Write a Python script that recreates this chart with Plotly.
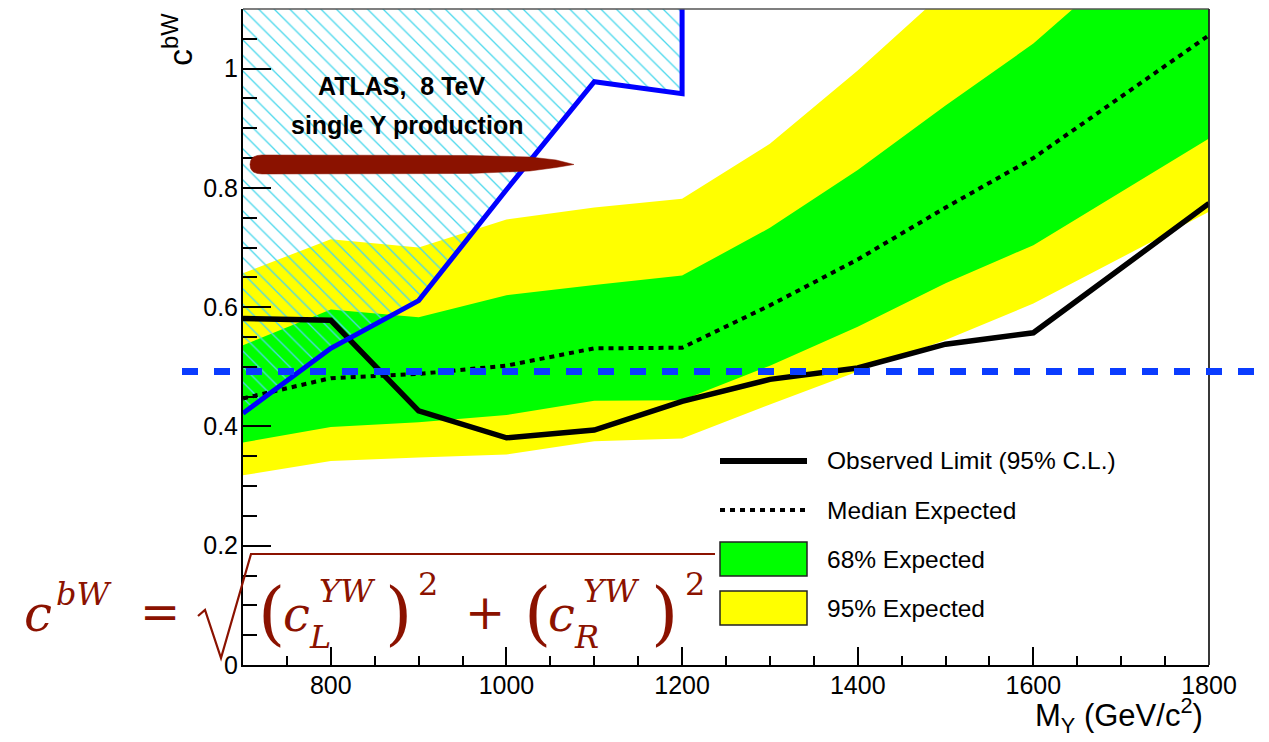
import plotly.graph_objects as go

# ---------------- data ----------------
mass = [700, 800, 900, 1000, 1100, 1200, 1300, 1400, 1500, 1600, 1800]
observed = [0.581, 0.578, 0.426, 0.381, 0.394, 0.442, 0.479, 0.498, 0.538, 0.557, 0.774]
expected = [0.447, 0.481, 0.488, 0.502, 0.531, 0.532, 0.603, 0.680, 0.767, 0.850, 1.056]
band68_lo = [0.373, 0.399, 0.407, 0.419, 0.443, 0.444, 0.502, 0.567, 0.640, 0.704, 0.883]
band68_hi = [0.536, 0.596, 0.583, 0.620, 0.637, 0.653, 0.733, 0.830, 0.938, 1.042, 1.300]
band95_lo = [0.318, 0.342, 0.348, 0.353, 0.375, 0.380, 0.437, 0.492, 0.545, 0.606, 0.760]
band95_hi = [0.657, 0.714, 0.700, 0.747, 0.767, 0.782, 0.874, 0.997, 1.130, 1.260, 1.550]

atlas_mass = [700, 800, 900, 1000, 1100, 1200, 1200]
atlas_limit = [0.422, 0.531, 0.611, 0.797, 0.978, 0.958, 1.15]

reference_coupling = 0.492

x_ticks = [800, 1000, 1200, 1400, 1600, 1800]
y_ticks = [0, 0.2, 0.4, 0.6, 0.8, 1.0]
y_tick_text = ["0", "0.2", "0.4", "0.6", "0.8", "1"]

legend_labels = ["Observed Limit (95% C.L.)", "Median Expected", "68% Expected", "95% Expected"]

X_RANGE = [700, 1800]
Y_RANGE = [0, 1.1]

# ---------------- geometry helpers ----------------
# the page body has an 8 px margin, so the plot frame (on screen 243..1209 x 9..665)
W, H = 1269, 742
OFF = 8
L, R, T, B = 243 - OFF, W - (1209 - OFF), 9 - OFF, H - (665 - OFF)
PW, PH = W - L - R, H - T - B


def px(x):  # screen pixel -> paper
    return (x - 243) / PW


def py(y):
    return (665 - y) / PH


DARKRED = "#8b1200"
SANS = "Liberation Sans"
SERIF = "DejaVu Serif"

fig = go.Figure()

# 95% band
fig.add_trace(go.Scatter(x=mass, y=band95_lo, mode="lines", line=dict(width=0, color="#ffff00"),
                         showlegend=False, hoverinfo="skip"))
fig.add_trace(go.Scatter(x=mass, y=band95_hi, mode="lines", line=dict(width=0, color="#ffff00"),
                         fill="tonexty", fillcolor="#ffff00", showlegend=False, hoverinfo="skip"))
# 68% band
fig.add_trace(go.Scatter(x=mass, y=band68_lo, mode="lines", line=dict(width=0, color="#00ff00"),
                         showlegend=False, hoverinfo="skip"))
fig.add_trace(go.Scatter(x=mass, y=band68_hi, mode="lines", line=dict(width=0, color="#00ff00"),
                         fill="tonexty", fillcolor="#00ff00", showlegend=False, hoverinfo="skip"))

# hatched excluded region (ATLAS)
fig.add_trace(go.Scatter(
    x=atlas_mass + [atlas_mass[0]], y=atlas_limit + [atlas_limit[-1]],
    mode="lines", line=dict(width=0, color="rgba(0,0,0,0)"),
    fill="toself", fillcolor="rgba(0,0,0,0)",
    fillpattern=dict(shape="\\", fgcolor="#4ad8ec", bgcolor="rgba(0,0,0,0)",
                     size=11, solidity=0.12, fillmode="replace"),
    showlegend=False, hoverinfo="skip"))

# median expected
fig.add_trace(go.Scatter(x=mass, y=expected, mode="lines",
                         line=dict(color="black", width=4, dash="5px,5px"),
                         showlegend=False))
# observed
fig.add_trace(go.Scatter(x=mass, y=observed, mode="lines",
                         line=dict(color="black", width=5.5),
                         showlegend=False))
# ATLAS limit line
fig.add_trace(go.Scatter(x=atlas_mass, y=atlas_limit, mode="lines",
                         line=dict(color="#0000ff", width=5),
                         showlegend=False))

shapes = []
annotations = []

# frame top & right
shapes.append(dict(type="line", xref="paper", yref="paper", x0=0, y0=1, x1=1, y1=1,
                   line=dict(color="#555555", width=1.5)))
shapes.append(dict(type="line", xref="paper", yref="paper", x0=1, y0=0, x1=1, y1=1,
                   line=dict(color="#222222", width=1.8)))

# blue dashed reference line (extends beyond the frame)
yref_p = (reference_coupling - Y_RANGE[0]) / (Y_RANGE[1] - Y_RANGE[0])
shapes.append(dict(type="line", xref="paper", yref="paper", x0=px(182), x1=px(1256),
                   y0=yref_p, y1=yref_p, line=dict(color="#0a3cff", width=7, dash="16px,16px")))

# red brush stroke
pts = [("M", 262, 155), ("L", 470, 155.5), ("L", 530, 157), ("L", 556, 160), ("L", 574, 164.5),
       ("L", 556, 167.5), ("L", 530, 171), ("L", 470, 173.5), ("L", 262, 174)]
path = " ".join(f"{c} {px(a):.5f},{py(b):.5f}" for c, a, b in pts)
path += f" Q {px(250):.5f},{py(174):.5f} {px(250):.5f},{py(164.5):.5f}"
path += f" Q {px(250):.5f},{py(155):.5f} {px(262):.5f},{py(155):.5f} Z"
shapes.append(dict(type="path", xref="paper", yref="paper", path=path,
                   fillcolor=DARKRED, line=dict(color=DARKRED, width=0.5)))

# radical sign of the formula
rad = [(198, 616), (205, 610), (221, 658), (251, 554), (715, 554)]
rpath = "M " + " L ".join(f"{px(a):.5f},{py(b):.5f}" for a, b in rad)
shapes.append(dict(type="path", xref="paper", yref="paper", path=rpath,
                   line=dict(color=DARKRED, width=2.2)))


def ann(text, x, y, size, family=SANS, color="black", xanchor="center", angle=0):
    annotations.append(dict(text=text, x=px(x), y=py(y), xref="paper", yref="paper",
                            xanchor=xanchor, yanchor="middle", showarrow=False,
                            textangle=angle, font=dict(size=size, family=family, color=color)))


def math(text, cx, base, size, italic=True):
    mid = base - 0.346 * size
    t = f"<i>{text}</i>" if italic else text
    ann(t, cx, mid, size, family=SERIF, color=DARKRED)


# formula  c^{bW} = sqrt((c_L^{YW})^2 + (c_R^{YW})^2)
math("c", 38, 631, 50)
math("bW", 84, 605, 32)
math("=", 160, 629, 48, italic=False)
math("(", 271, 637, 70, italic=False)
math("c", 296, 631, 48)
math("YW", 347, 602, 32)
math("L", 320, 648, 32)
math(")", 398, 637, 70, italic=False)
math("2", 428, 595, 32, italic=False)
math("+", 485, 629, 48, italic=False)
math("(", 537, 637, 70, italic=False)
math("c", 561, 631, 48)
math("YW", 611, 602, 32)
math("R", 586, 648, 32)
math(")", 664, 637, 70, italic=False)
math("2", 695, 595, 32, italic=False)

# ATLAS label
ann("<b>ATLAS,\u00a0 8 TeV</b>", 401, 86, 25)
ann("<b>single Y production</b>", 407, 125, 25)

# axis titles
ann("c<sup>bW</sup>", 178, 40, 34, angle=-90)
ann("M<sub>Y</sub> (GeV/c<sup>2</sup>)", 1205, 716, 31, xanchor="right")

# legend (drawn by hand, ROOT style)
rows = [461, 510, 559, 608]
shapes.append(dict(type="line", xref="paper", yref="paper", x0=px(720), x1=px(807),
                   y0=py(rows[0]), y1=py(rows[0]), line=dict(color="black", width=6)))
shapes.append(dict(type="line", xref="paper", yref="paper", x0=px(720), x1=px(807),
                   y0=py(rows[1]), y1=py(rows[1]), line=dict(color="black", width=4, dash="5px,5px")))
for r, col in ((rows[2], "#00ff00"), (rows[3], "#ffff00")):
    shapes.append(dict(type="rect", xref="paper", yref="paper", x0=px(720), x1=px(807),
                       y0=py(r - 17), y1=py(r + 17), fillcolor=col,
                       line=dict(color="#222222", width=1.5)))
for r, lab in zip(rows, legend_labels):
    ann(lab, 825, r, 24.5, xanchor="left")

fig.update_layout(
    width=W, height=H, autosize=False,
    margin=dict(l=L, r=R, t=T, b=B, pad=0),
    paper_bgcolor="white", plot_bgcolor="white",
    font=dict(family=SANS, size=25, color="black"),
    showlegend=False,
    shapes=shapes, annotations=annotations,
    xaxis=dict(range=X_RANGE, tickvals=x_ticks, ticks="inside", ticklen=18, tickwidth=1.5,
               tickcolor="black", showline=True, linecolor="black", linewidth=2,
               showgrid=False, zeroline=False, tickfont=dict(size=25, family=SANS),
               ticklabelstandoff=-3,
               minor=dict(dtick=50, tick0=700, ticks="inside", ticklen=9, tickwidth=1.5,
                          tickcolor="black", showgrid=False)),
    yaxis=dict(range=Y_RANGE, tickvals=y_ticks, ticktext=y_tick_text, ticks="inside",
               ticklen=28, tickwidth=1.5, tickcolor="black", showline=True, linecolor="black",
               linewidth=2, showgrid=False, zeroline=False, tickfont=dict(size=25, family=SANS),
               ticklabelstandoff=-2,
               minor=dict(dtick=0.05, tick0=0, ticks="inside", ticklen=14, tickwidth=1.5,
                          tickcolor="black", showgrid=False)),
)

fig.write_html("out.html")
